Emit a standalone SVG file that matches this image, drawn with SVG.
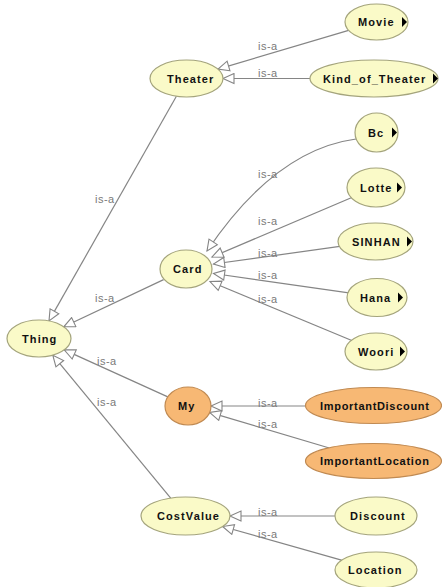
<svg xmlns="http://www.w3.org/2000/svg" width="442" height="587" viewBox="0 0 442 587">
<style>
.n ellipse{fill:#fafac8;stroke:#a4a47c;stroke-width:1.2}
.o ellipse{fill:#f7b874;stroke:#c08a52;stroke-width:1.2}
.n text,.o text{font-family:"Liberation Sans",Arial,sans-serif;font-size:11px;font-weight:bold;letter-spacing:1.1px;fill:#111}
.ind{fill:#000}
#edges line,#edges path{stroke:#858585;stroke-width:1.2;fill:none;marker-end:url(#tri)}
.lbl{font-family:"Liberation Sans",Arial,sans-serif;font-size:11px;letter-spacing:0.5px;fill:#7a7a7a}
</style>
<defs>
<marker id="tri" markerWidth="14" markerHeight="12" refX="12" refY="6" orient="auto" markerUnits="userSpaceOnUse" viewBox="0 0 14 12">
<path d="M1,1 L12,6 L1,11 Z" fill="#fff" stroke="#858585" stroke-width="1.1"/>
</marker>
</defs>
<rect width="442" height="587" fill="#fff"/>
<g id="edges">
<line x1="348.6" y1="30.3" x2="218" y2="69.1"/>
<line x1="310" y1="78.5" x2="223" y2="78.5"/>
<line x1="176.4" y1="96.3" x2="49" y2="320.9"/>
<path d="M356,139 Q275,150 207,251"/>
<line x1="353" y1="197" x2="212" y2="257"/>
<line x1="341.6" y1="246.2" x2="213.5" y2="264"/>
<line x1="348.8" y1="292.9" x2="213.5" y2="273.5"/>
<line x1="353" y1="341" x2="210" y2="281.5"/>
<line x1="163.6" y1="279.6" x2="63.8" y2="326.8"/>
<line x1="167.8" y1="396.9" x2="64.2" y2="349.9"/>
<line x1="170.7" y1="498.1" x2="52.8" y2="355.2"/>
<line x1="305" y1="406" x2="211" y2="406"/>
<line x1="329.3" y1="448" x2="209.6" y2="412.4"/>
<line x1="335" y1="516" x2="230" y2="516"/>
<line x1="341.5" y1="560.2" x2="222.6" y2="526.5"/>
<text class="lbl" x="258" y="50">is-a</text>
<text class="lbl" x="258" y="77">is-a</text>
<text class="lbl" x="95" y="203">is-a</text>
<text class="lbl" x="258" y="178">is-a</text>
<text class="lbl" x="258" y="225">is-a</text>
<text class="lbl" x="258" y="257">is-a</text>
<text class="lbl" x="258" y="279">is-a</text>
<text class="lbl" x="258" y="303">is-a</text>
<text class="lbl" x="95" y="302">is-a</text>
<text class="lbl" x="97" y="365">is-a</text>
<text class="lbl" x="97" y="406">is-a</text>
<text class="lbl" x="258" y="407">is-a</text>
<text class="lbl" x="258" y="428">is-a</text>
<text class="lbl" x="258" y="516">is-a</text>
<text class="lbl" x="258" y="538">is-a</text>
</g>
<g id="Thing" class="n"><ellipse cx="39" cy="338.5" rx="32" ry="18.5"/><text x="22" y="342.5">Thing</text></g>
<g id="Theater" class="n"><ellipse cx="186.5" cy="78.5" rx="36.5" ry="18.5"/><text x="167" y="82.5">Theater</text></g>
<g id="Movie" class="n"><ellipse cx="376.5" cy="22" rx="31.5" ry="18"/><text x="358" y="26">Movie</text><path class="ind" d="M402,17 L407,22 L402,27 Z"/></g>
<g id="Kind_of_Theater" class="n"><ellipse cx="374" cy="78.5" rx="64" ry="18.5"/><text x="323" y="82.5">Kind_of_Theater</text><path class="ind" d="M433,73.5 L438,78.5 L433,83.5 Z"/></g>
<g id="Card" class="n"><ellipse cx="186" cy="269" rx="26" ry="19"/><text x="173" y="273">Card</text></g>
<g id="Bc" class="n"><ellipse cx="376.5" cy="132.5" rx="21.5" ry="19.5"/><text x="368" y="136.5">Bc</text><path class="ind" d="M392,127.5 L397,132.5 L392,137.5 Z"/></g>
<g id="Lotte" class="n"><ellipse cx="376" cy="187.5" rx="29" ry="19.5"/><text x="360" y="191.5">Lotte</text><path class="ind" d="M397,182.5 L402,187.5 L397,192.5 Z"/></g>
<g id="SINHAN" class="n"><ellipse cx="375.5" cy="241.5" rx="37.5" ry="18.5"/><text x="352" y="245.5">SINHAN</text><path class="ind" d="M407,236.5 L412,241.5 L407,246.5 Z"/></g>
<g id="Hana" class="n"><ellipse cx="377" cy="297.5" rx="30" ry="19"/><text x="360" y="301.5">Hana</text><path class="ind" d="M398,292.5 L403,297.5 L398,302.5 Z"/></g>
<g id="Woori" class="n"><ellipse cx="376" cy="351.5" rx="31" ry="18.5"/><text x="358" y="355.5">Woori</text><path class="ind" d="M400,346.5 L405,351.5 L400,356.5 Z"/></g>
<g id="My" class="o"><ellipse cx="188" cy="406" rx="23" ry="19"/><text x="178" y="410">My</text></g>
<g id="ImportantDiscount" class="o"><ellipse cx="373.5" cy="405.5" rx="68" ry="18"/><text x="320" y="409.5" textLength="110" lengthAdjust="spacing">ImportantDiscount</text></g>
<g id="ImportantLocation" class="o"><ellipse cx="373.5" cy="461" rx="68" ry="17.5"/><text x="320" y="465" textLength="110" lengthAdjust="spacing">ImportantLocation</text></g>
<g id="CostValue" class="n"><ellipse cx="185.5" cy="516" rx="44.5" ry="19"/><text x="157" y="520">CostValue</text></g>
<g id="Discount" class="n"><ellipse cx="376" cy="516" rx="41" ry="19"/><text x="350" y="520">Discount</text></g>
<g id="Location" class="n"><ellipse cx="376" cy="570" rx="41" ry="18"/><text x="348" y="574">Location</text></g>
</svg>
